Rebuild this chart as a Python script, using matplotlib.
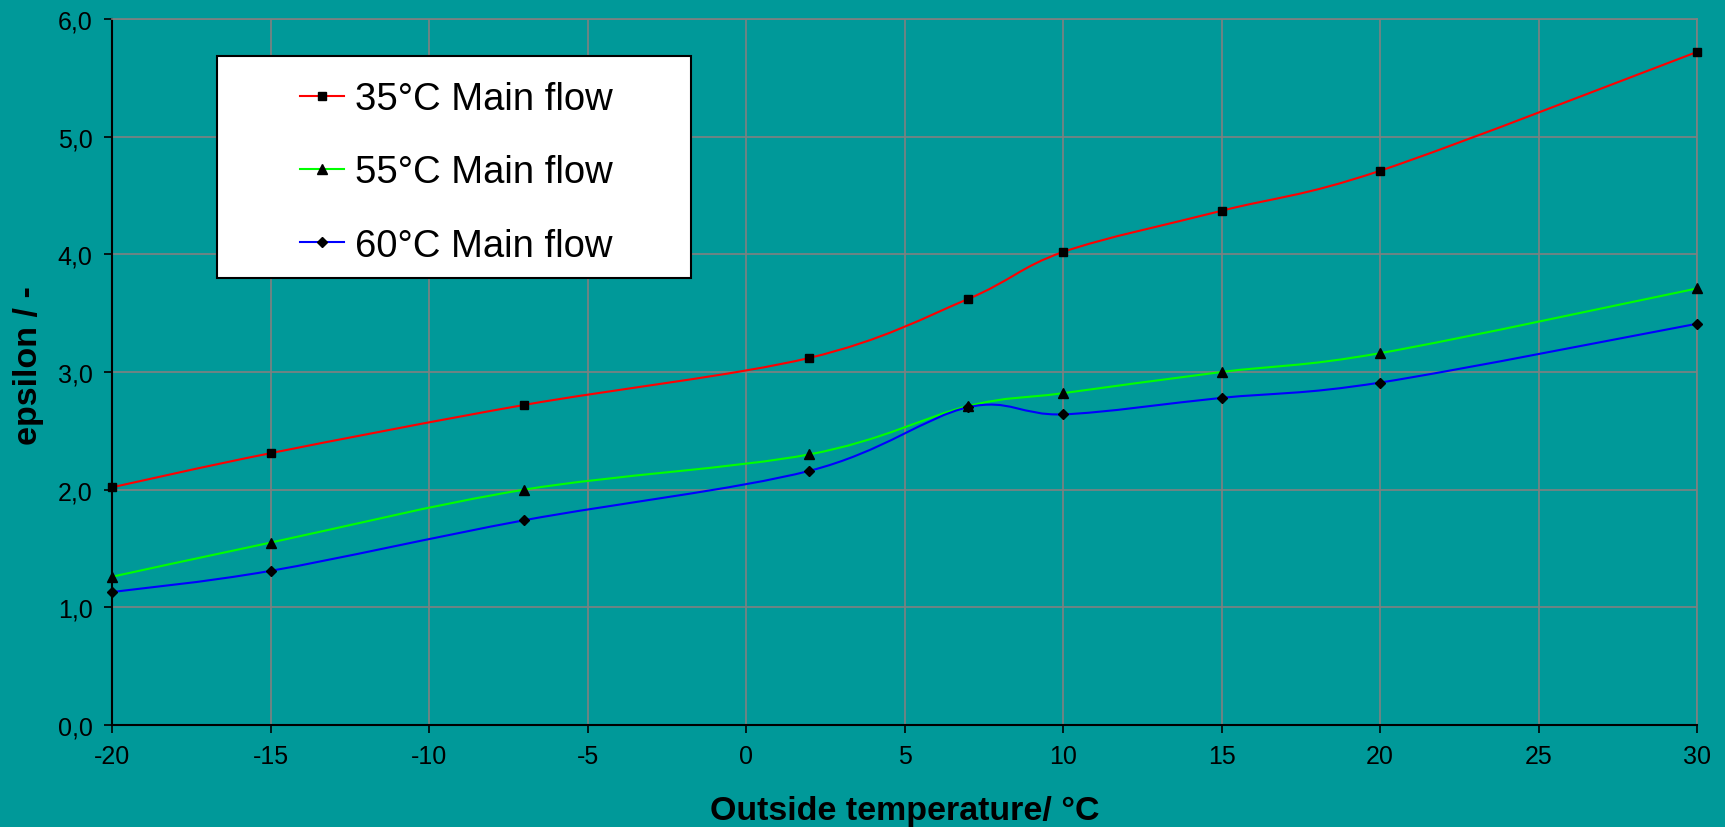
import matplotlib
matplotlib.use("Agg")
import matplotlib.pyplot as plt
from matplotlib.path import Path
from matplotlib.patches import PathPatch, Rectangle
from matplotlib.lines import Line2D
import numpy as np

plt.rcParams['font.family'] = ['Liberation Sans', 'DejaVu Sans']
plt.rcParams['axes.unicode_minus'] = False

# outside temperature points (°C)
temps = [-20, -15, -7, 2, 7, 10, 15, 20, 30]
# epsilon values
eps_35 = [2.02, 2.31, 2.72, 3.12, 3.62, 4.02, 4.37, 4.71, 5.72]
eps_55 = [1.26, 1.55, 2.00, 2.30, 2.71, 2.82, 3.00, 3.16, 3.71]
eps_60 = [1.13, 1.31, 1.74, 2.16, 2.70, 2.64, 2.78, 2.91, 3.41]

labels = ['35°C Main flow', '55°C Main flow', '60°C Main flow']
colors = ['#ff0000', '#00ff00', '#0000ff']
markers = ['s', '^', 'D']
msizes = [5.5, 7, 5]

xticks = [-20, -15, -10, -5, 0, 5, 10, 15, 20, 25, 30]
yticks = [0, 1, 2, 3, 4, 5, 6]

bg = '#009999'


def smooth_path(xs, ys):
    # excel-like smoothed line: cubic bezier through the points
    pts = np.column_stack([xs, ys]).astype(float)
    n = len(pts)
    verts = [pts[0]]
    codes = [Path.MOVETO]
    for i in range(n - 1):
        p0 = pts[i - 1] if i > 0 else pts[i]
        p1 = pts[i]
        p2 = pts[i + 1]
        p3 = pts[i + 2] if i + 2 < n else pts[i + 1]
        c1 = p1 + (p2 - p0) / 6.0
        c2 = p2 - (p3 - p1) / 6.0
        verts += [c1, c2, p2]
        codes += [Path.CURVE4] * 3
    return Path(verts, codes)


fig = plt.figure(figsize=(17.25, 8.28), dpi=100, facecolor=bg)
ax = fig.add_axes([112 / 1725, 1 - 726 / 828, (1697 - 112) / 1725, (726 - 20) / 828])
ax.set_facecolor(bg)

for ys, c, m, ms in zip([eps_35, eps_55, eps_60], colors, markers, msizes):
    ax.add_patch(PathPatch(smooth_path(temps, ys), facecolor='none', edgecolor=c, lw=1.5, zorder=3))
    ax.plot(temps, ys, linestyle='none', marker=m, color='black', markersize=ms, zorder=4, clip_on=False)

ax.set_xlim(-20, 30)
ax.set_ylim(0, 6)
ax.set_xticks(xticks)
ax.set_yticks(yticks)
ax.set_xticklabels([str(t) for t in xticks])
ax.set_yticklabels([f'{t:.1f}'.replace('.', ',') for t in yticks])
ax.tick_params(labelsize=18, length=6, width=1.2, direction='out', pad=8)
ax.grid(True, color='#808080', lw=1.2)
ax.set_axisbelow(True)

for s in ['top', 'right']:
    ax.spines[s].set_color('#808080')
    ax.spines[s].set_linewidth(1.2)
for s in ['left', 'bottom']:
    ax.spines[s].set_color('black')
    ax.spines[s].set_linewidth(1.5)

fig.text(0.5 * (112 + 1697) / 1725, 1 - 820 / 828, 'Outside temperature/ °C', ha='center', va='baseline',
         fontsize=24.5, fontweight='bold')
fig.text(29 / 1725, 1 - 366 / 828, 'epsilon / -', ha='center', va='center', rotation=90,
         fontsize=24.5, fontweight='bold')

# legend box
fig.patches.append(Rectangle((217 / 1725, 1 - 279 / 828), (691 - 217) / 1725, (279 - 57) / 828,
                             transform=fig.transFigure, facecolor='white', edgecolor='black', lw=1.5, zorder=5))
handles = [Line2D([], [], color=c, lw=1.5, marker=m, markersize=ms, markerfacecolor='black',
                  markeredgecolor='black') for c, m, ms in zip(colors, markers, msizes)]
leg = fig.legend(handles, labels, loc='upper left', bbox_to_anchor=(300 / 1725, 1 - 82 / 828),
                 frameon=False, fontsize=27.5, handlelength=1.15, handletextpad=0.3,
                 labelspacing=0.98, borderpad=0, borderaxespad=0)
leg.set_zorder(6)

fig.savefig('out.png', dpi=100, facecolor=bg)
